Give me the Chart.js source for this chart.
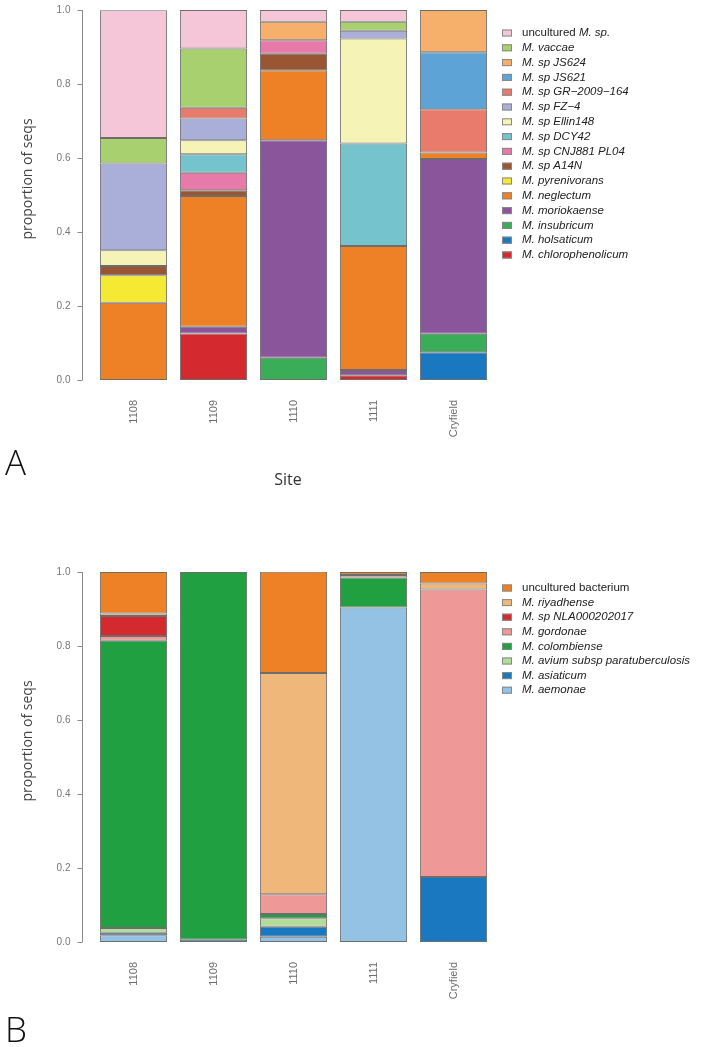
<!DOCTYPE html>
<html>
<head>
<meta charset="utf-8">
<script src="https://cdn.jsdelivr.net/npm/chart.js@4.4.0/dist/chart.umd.min.js"></script>
<style>
  body { margin: 0; background: #fff; width: 706px; height: 1047px; position: relative; overflow: hidden; }
  .wrap { position: absolute; left: 0; width: 706px; }
  .panel { position: absolute; left: 5px; font: 300 35px/1 "Open Sans", sans-serif; color: #111; }
</style>
</head>
<body>
<div class="wrap" style="top:0;height:530px"><canvas id="chartA"></canvas></div>
<div class="wrap" style="top:540px;height:507px"><canvas id="chartB"></canvas></div>
<div class="panel" style="top:444px">A</div>
<div class="panel" style="top:1011px">B</div>
<script>
const sites = ["1108", "1109", "1110", "1111", "Cryfield"];
const yTicks = [0, 0.2, 0.4, 0.6, 0.8, 1.0];

// panel A, listed from the bottom of the stack upwards
const speciesA = ["M. chlorophenolicum", "M. holsaticum", "M. insubricum", "M. moriokaense",
  "M. neglectum", "M. pyrenivorans", "M. sp A14N", "M. sp CNJ881 PL04", "M. sp DCY42",
  "M. sp Ellin148", "M. sp FZ\u22124", "M. sp GR\u22122009\u2212164", "M. sp JS621",
  "M. sp JS624", "M. vaccae", "uncultured M. sp."];
const colorsA = ["#d42a2f", "#1a78c0", "#3aad58", "#8a559b", "#ee8125", "#f6e934",
  "#9a5532", "#e87aa9", "#74c3cd", "#f5f3b5", "#a9afd8", "#e87b6c", "#5ea3d6",
  "#f6b06b", "#a9d06e", "#f4c6d8"];
const valuesA = [
  [0, 0.126, 0, 0.013, 0],          // chlorophenolicum
  [0, 0, 0, 0, 0.075],              // holsaticum
  [0, 0, 0.060, 0, 0.050],          // insubricum
  [0, 0.018, 0.588, 0.014, 0.472],  // moriokaense
  [0.209, 0.353, 0.189, 0.335, 0.018], // neglectum
  [0.074, 0, 0, 0, 0],              // pyrenivorans
  [0.025, 0.016, 0.045, 0, 0],      // A14N
  [0, 0.047, 0.036, 0, 0],          // CNJ881 PL04
  [0, 0.050, 0, 0.277, 0],          // DCY42
  [0.043, 0.038, 0, 0.284, 0],      // Ellin148
  [0.234, 0.059, 0, 0.021, 0],      // FZ-4
  [0, 0.029, 0, 0, 0.117],          // GR-2009-164
  [0, 0, 0, 0, 0.154],              // JS621
  [0, 0, 0.050, 0, 0.114],          // JS624
  [0.069, 0.160, 0, 0.024, 0],      // vaccae
  [0.345, 0.104, 0.032, 0.032, 0]   // uncultured
];

// panel B
const speciesB = ["M. aemonae", "M. asiaticum", "M. avium subsp paratuberculosis",
  "M. colombiense", "M. gordonae", "M. sp NLA000202017", "M. riyadhense", "uncultured bacterium"];
const colorsB = ["#93c2e4", "#1a78c0", "#b2dc98", "#20a040", "#ee9898", "#d42a2f", "#f0b77a", "#ee8125"];
const valuesB = [
  [0.018, 0, 0.014, 0.904, 0],      // aemonae
  [0.007, 0.006, 0.027, 0, 0.176],  // asiaticum
  [0.013, 0, 0.023, 0, 0],          // avium
  [0.776, 0.994, 0.012, 0.081, 0],  // colombiense
  [0.013, 0, 0.053, 0.007, 0.777],  // gordonae
  [0.054, 0, 0, 0, 0],              // NLA000202017
  [0.007, 0, 0.598, 0, 0.016],      // riyadhense
  [0.112, 0, 0.274, 0.008, 0.031]   // uncultured bacterium
];

// R-style axis, y title, x title and legend
const rAxis = {
  id: 'rAxis',
  afterDraw(chart, args, opts) {
    const ctx = chart.ctx, y = chart.scales.y, area = chart.chartArea;
    const x0 = Math.round(area.left - 11.5) + 0.5;
    ctx.save();
    ctx.strokeStyle = '#8c8c8c';
    ctx.lineWidth = 1;
    ctx.beginPath();
    ctx.moveTo(x0, y.getPixelForValue(0));
    ctx.lineTo(x0, y.getPixelForValue(1));
    yTicks.forEach(v => {
      const py = Math.round(y.getPixelForValue(v)) + 0.5;
      ctx.moveTo(x0 - 5, py);
      ctx.lineTo(x0, py);
    });
    ctx.stroke();

    ctx.fillStyle = '#777';
    ctx.font = '10px "Liberation Sans"';
    ctx.textAlign = 'right';
    ctx.textBaseline = 'middle';
    yTicks.forEach(v => ctx.fillText(v.toFixed(1), x0 - 12, y.getPixelForValue(v)));

    ctx.save();
    ctx.translate(28, (area.top + area.bottom) / 2 - 16);
    ctx.rotate(-Math.PI / 2);
    ctx.textAlign = 'center';
    ctx.fillStyle = '#444';
    ctx.font = '14px "Open Sans"';
    ctx.fillText('proportion of seqs', 0, 0);
    ctx.restore();

    if (opts.xTitle) {
      ctx.textAlign = 'center';
      ctx.fillStyle = '#333';
      ctx.font = '16px "Open Sans"';
      ctx.fillText(opts.xTitle, 288, opts.xTitleY);
    }

    // legend, top entry = top of stack
    const ds = chart.data.datasets.slice().reverse();
    ctx.textAlign = 'left';
    ds.forEach((d, i) => {
      const cy = opts.legendTop + i * opts.legendStep;
      ctx.fillStyle = d.backgroundColor;
      ctx.fillRect(502, cy - 3.5, 10, 7);
      ctx.strokeStyle = '#888';
      ctx.strokeRect(502.5, cy - 3, 9, 6);
      const k = d.label.indexOf('M.');
      const plain = k < 0 ? d.label : d.label.slice(0, k);
      const ital = k < 0 ? '' : d.label.slice(k);
      ctx.fillStyle = '#222';
      ctx.font = '11.5px "Liberation Sans"';
      ctx.fillText(plain, 522, cy);
      const w = ctx.measureText(plain).width;
      ctx.font = 'italic 11.5px "Liberation Sans"';
      ctx.fillText(ital, 522 + w, cy);
    });
    ctx.restore();
  }
};

function makeChart(id, species, values, colors, opts) {
  return new Chart(document.getElementById(id), {
    type: 'bar',
    data: {
      labels: sites,
      datasets: species.map((s, i) => ({
        label: s,
        data: values[i],
        backgroundColor: colors[i],
        borderColor: 'rgba(60,60,60,0.75)',
        borderWidth: 1,
        borderSkipped: false,
        categoryPercentage: 1,
        barPercentage: 0.84
      }))
    },
    options: {
      responsive: true,
      maintainAspectRatio: false,
      animation: false,
      layout: { padding: { left: 93.5, right: 212.5, top: opts.top, bottom: 0 } },
      plugins: {
        legend: { display: false },
        tooltip: { enabled: false },
        rAxis: opts
      },
      scales: {
        x: {
          stacked: true,
          grid: { display: false },
          border: { display: false },
          ticks: {
            minRotation: 90, maxRotation: 90, padding: opts.tickPad,
            color: '#6e6e6e', font: { family: 'Liberation Sans', size: 11 }
          },
          afterFit: s => { s.height = opts.xHeight; }
        },
        y: { stacked: true, display: false, min: 0, max: 1 }
      }
    },
    plugins: [rAxis]
  });
}

makeChart('chartA', speciesA, valuesA, colorsA,
  { top: 10, xHeight: 150, tickPad: 12, xTitle: 'Site', xTitleY: 480, legendTop: 33, legendStep: 14.8 });
makeChart('chartB', speciesB, valuesB, colorsB,
  { top: 32, xHeight: 105, tickPad: 12, legendTop: 48, legendStep: 14.6 });
</script>
</body>
</html>
